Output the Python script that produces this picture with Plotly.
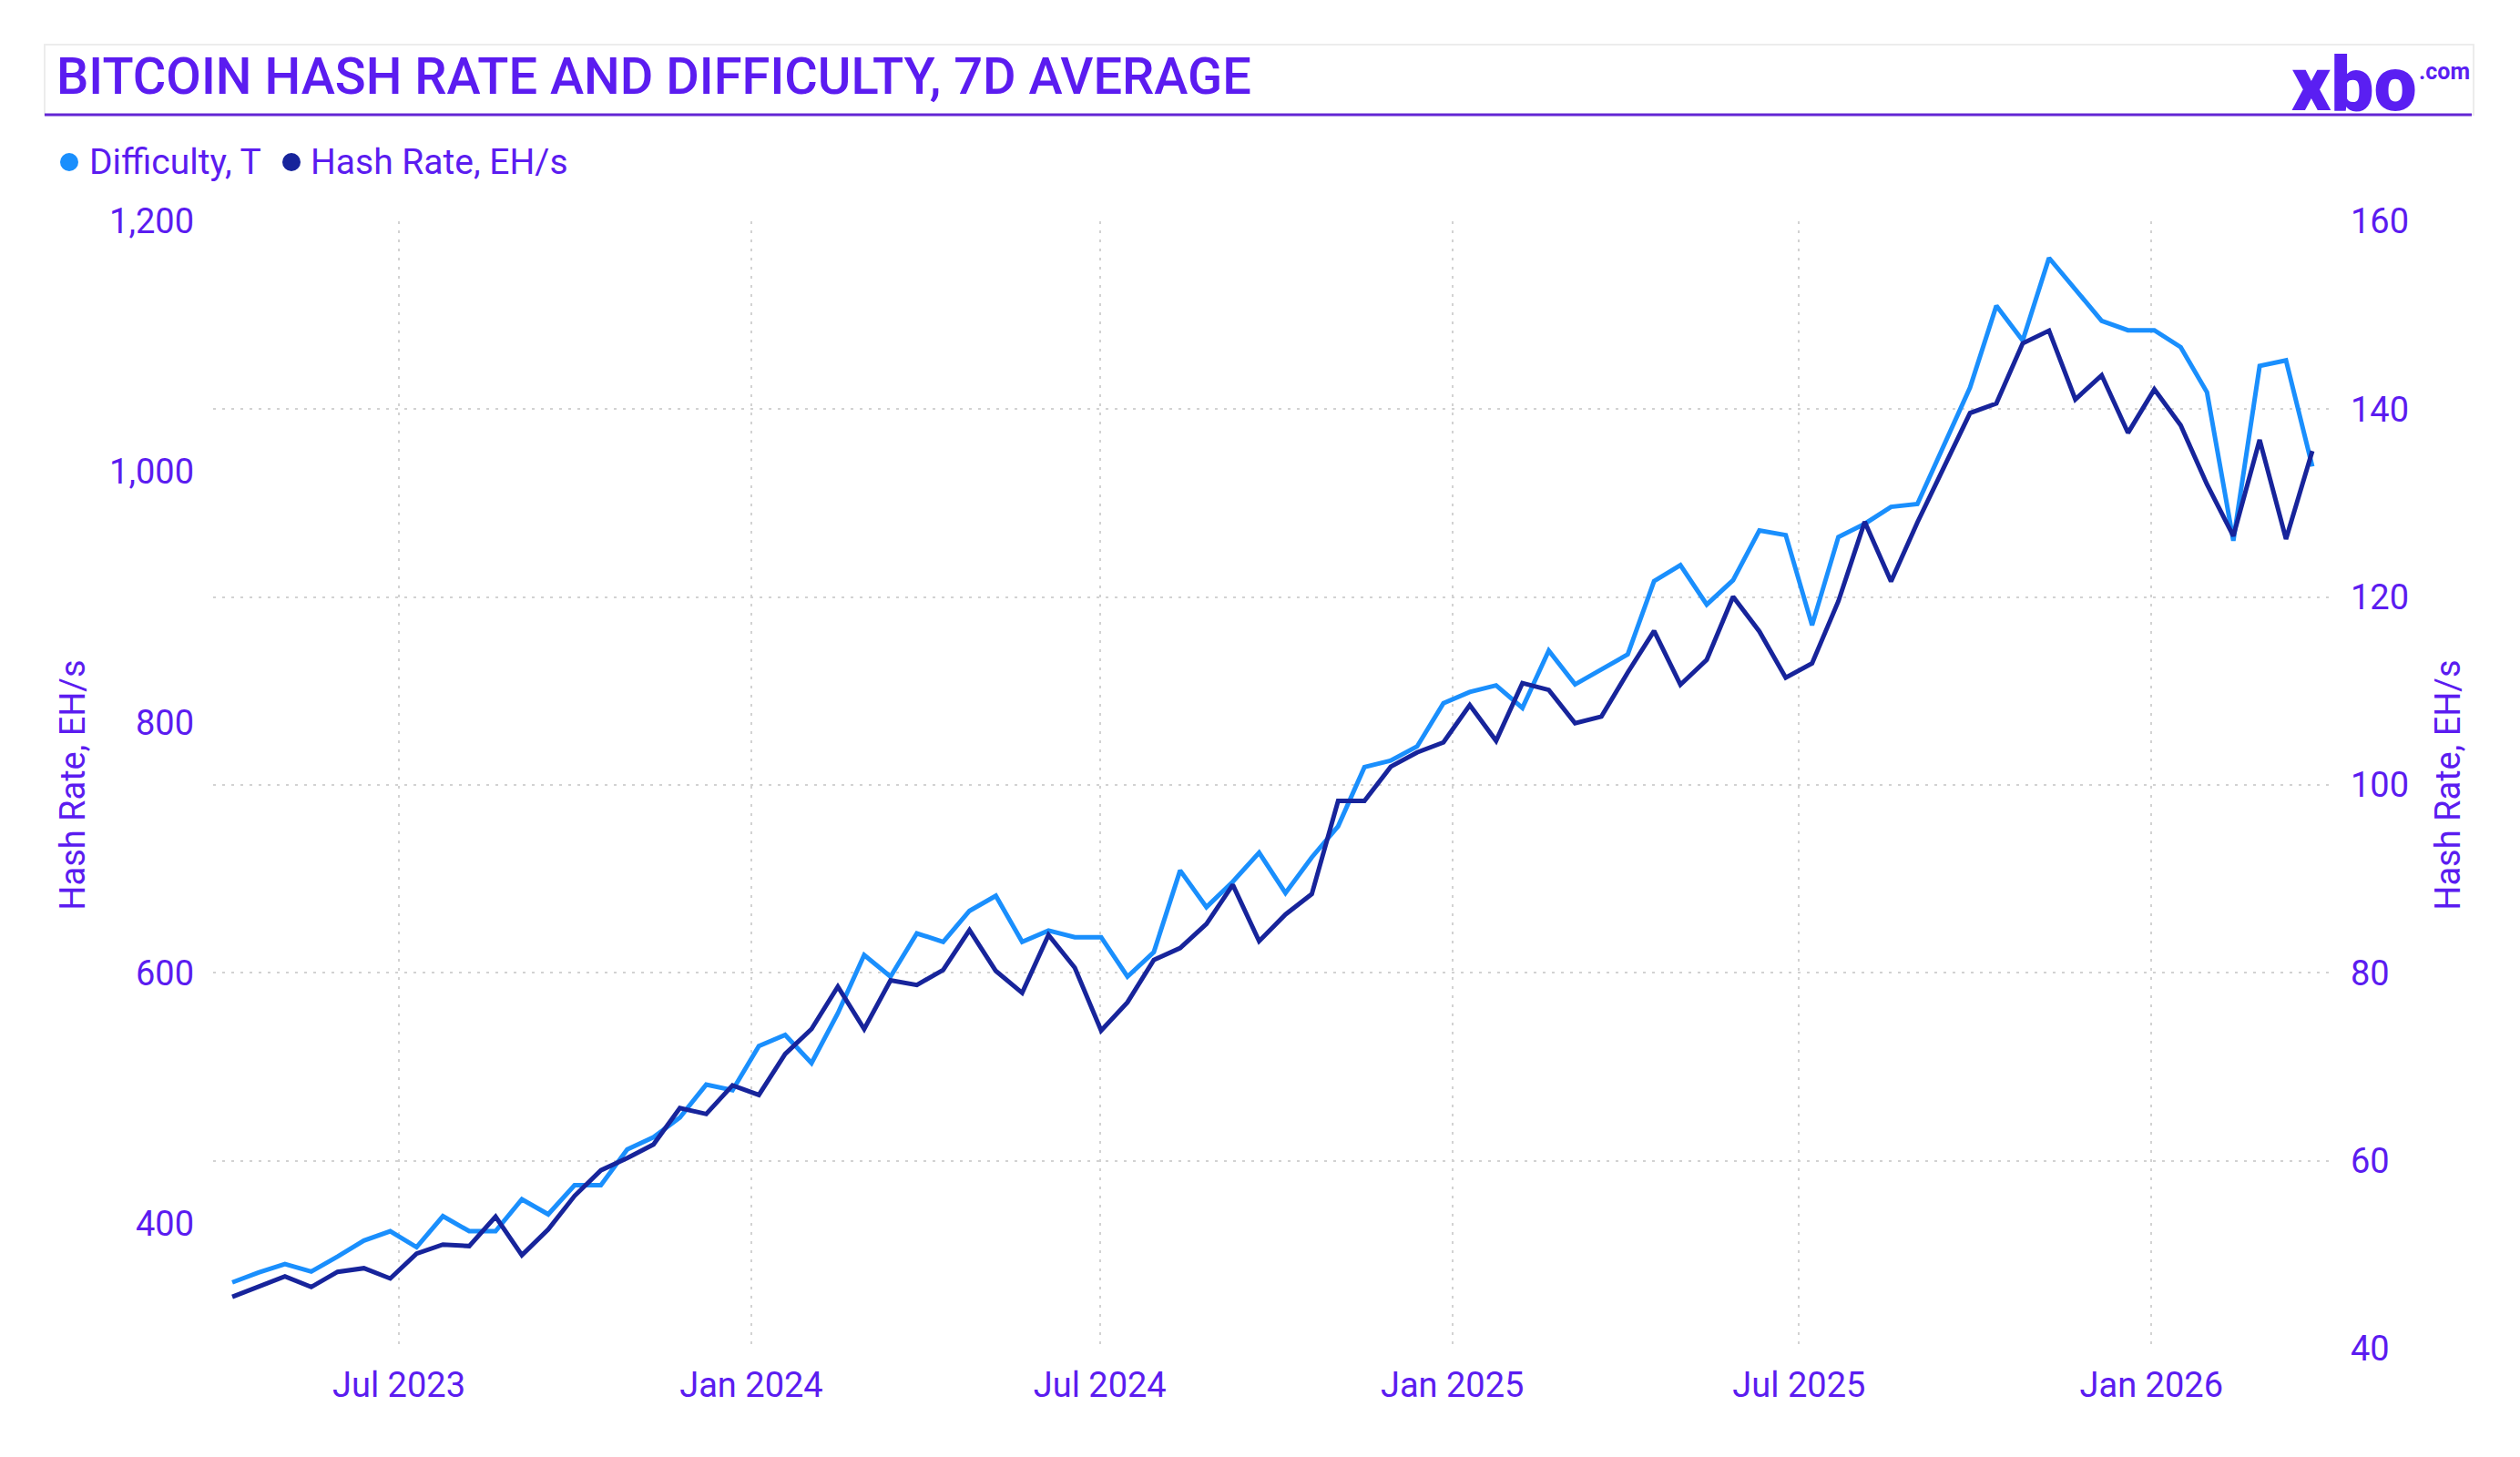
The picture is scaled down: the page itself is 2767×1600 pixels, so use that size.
import pandas as pd
import plotly.graph_objects as go

# ---------------- data ----------------
start_date = "2023-04-05"
end_date = "2026-03-26"
n_points = 80

difficulty_t = [
    47.05, 48.1, 49.0, 48.2, 49.8, 51.5, 52.5, 50.8, 54.1, 52.5,
    52.5, 55.9, 54.3, 57.4, 57.4, 61.2, 62.5, 64.6, 68.1, 67.5,
    72.2, 73.4, 70.4, 75.7, 81.9, 79.6, 84.2, 83.3, 86.6, 88.2,
    83.3, 84.5, 83.8, 83.8, 79.6, 82.2, 90.9, 87.0, 89.7, 92.8,
    88.5, 92.3, 95.6, 101.9, 102.6, 104.1, 108.7, 109.9, 110.6, 108.2,
    114.3, 110.7, 112.3, 113.9, 121.7, 123.4, 119.2, 121.8, 127.1, 126.6,
    117.0, 126.4, 127.8, 129.6, 129.9, 136.2, 142.3, 151.0, 147.3, 156.1,
    152.8, 149.4, 148.4, 148.4, 146.6, 141.8, 126.0, 144.6, 145.2, 133.9,
]

hash_rate_eh = [
    341.4, 349.2, 357.6, 349.2, 361.3, 364.2, 356.0, 375.8, 383.1, 381.9,
    405.4, 374.6, 395.2, 421.9, 442.4, 452.1, 463.0, 492.1, 487.3, 510.2,
    502.5, 535.2, 555.2, 589.0, 555.2, 594.0, 590.3, 602.3, 634.1, 601.5,
    584.0, 630.3, 604.1, 554.0, 576.5, 610.3, 619.8, 639.1, 670.3, 625.3,
    646.6, 662.9, 737.3, 737.3, 764.6, 776.0, 784.0, 813.8, 785.2, 831.3,
    825.9, 799.3, 804.6, 839.8, 872.9, 830.0, 850.0, 900.3, 872.5, 835.6,
    847.0, 896.7, 960.1, 912.5, 959.6, 1003.3, 1046.9, 1054.6, 1102.6, 1112.7,
    1057.8, 1077.1, 1031.1, 1065.8, 1037.1, 989.9, 948.8, 1025.5, 946.3, 1016.6,
]

dates = pd.date_range(start_date, end_date, periods=n_points)

left_tickvals = [400, 600, 800, 1000, 1200]
right_tickvals = [40, 60, 80, 100, 120, 140, 160]

title_text = "BITCOIN HASH RATE AND DIFFICULTY, 7D AVERAGE"
axis_title = "Hash Rate, EH/s"
series_names = ["Difficulty, T", "Hash Rate, EH/s"]

# ---------------- style ----------------
W, H = 2767, 1600
ML, MR, MT, MB = 234, 207, 243, 119
PW = W - ML - MR
PH = H - MT - MB

LIGHT = "#1a8ffd"
DARK = "#17249b"
PURPLE = "#5b1cf0"
LINE_PURPLE = "#6326d4"
GRID = "#d2d2d2"
FONT = "Roboto"


def px_x(x):
    return (x - ML) / PW


def px_y(y):
    return (H - MB - y) / PH


tick_font = dict(family=FONT, size=38, color=PURPLE)

fig = go.Figure()

fig.add_trace(go.Scatter(
    x=dates, y=difficulty_t, mode="lines", name=series_names[0],
    line=dict(color=LIGHT, width=5), yaxis="y", showlegend=False,
    hoverinfo="skip",
))
fig.add_trace(go.Scatter(
    x=dates, y=hash_rate_eh, mode="lines", name=series_names[1],
    line=dict(color=DARK, width=5), yaxis="y2", showlegend=False,
    hoverinfo="skip",
))

# manual legend: dots + labels (pixel positions)
legend_items = [
    (series_names[0], LIGHT, 76, 96),
    (series_names[1], DARK, 320, 339),
]
legend_y = 178
dot_r = 10

shapes = [
    dict(type="rect", xref="paper", yref="paper",
         x0=px_x(49), x1=px_x(2716), y0=px_y(126), y1=px_y(49),
         line=dict(color="#ececec", width=2), fillcolor="rgba(0,0,0,0)", layer="below"),
    dict(type="line", xref="paper", yref="paper",
         x0=px_x(49), x1=px_x(2714), y0=px_y(126), y1=px_y(126),
         line=dict(color=LINE_PURPLE, width=3)),
]
annotations = [
    dict(text=title_text, xref="paper", yref="paper", x=px_x(60), y=px_y(84),
         xanchor="left", yanchor="middle", showarrow=False,
         font=dict(family=FONT, size=56, color=PURPLE, weight=500)),
    dict(text="xbo", xref="paper", yref="paper", x=px_x(2656), y=px_y(92),
         xanchor="right", yanchor="middle", showarrow=False,
         font=dict(family=FONT, size=84, color="#5a1ff2", weight=900)),
    dict(text=".com", xref="paper", yref="paper", x=px_x(2654), y=px_y(78),
         xanchor="left", yanchor="middle", showarrow=False,
         font=dict(family=FONT, size=25, color="#5a1ff2", weight=700)),
]
for name, color, cx, tx in legend_items:
    shapes.append(dict(
        type="circle", xref="paper", yref="paper",
        x0=px_x(cx - dot_r), x1=px_x(cx + dot_r),
        y0=px_y(legend_y + dot_r), y1=px_y(legend_y - dot_r),
        fillcolor=color, line=dict(width=0),
    ))
    annotations.append(dict(
        text=name, xref="paper", yref="paper", x=px_x(tx), y=px_y(legend_y),
        xanchor="left", yanchor="middle", showarrow=False,
        font=dict(family=FONT, size=39, color=PURPLE),
    ))

fig.update_layout(
    width=W, height=H,
    margin=dict(l=ML, r=MR, t=MT, b=MB, autoexpand=False),
    paper_bgcolor="white", plot_bgcolor="white",
    font=dict(family=FONT, color=PURPLE),
    showlegend=False,
    xaxis=dict(
        type="date", range=["2023-03-26", "2026-04-05"],
        tick0="2023-01-01", dtick="M6", tickformat="%b %Y",
        showgrid=True, gridcolor=GRID, gridwidth=2, griddash="3px,7px",
        zeroline=False, showline=False, ticks="",
        tickfont=tick_font, ticklabelstandoff=14,
    ),
    yaxis=dict(
        side="right", range=[40, 160], tickvals=right_tickvals,
        showgrid=True, gridcolor=GRID, gridwidth=2, griddash="3px,7px",
        zeroline=False, showline=False, ticks="",
        tickfont=tick_font, ticklabelstandoff=20,
        title=dict(text=axis_title, font=dict(family=FONT, size=38, color=PURPLE), standoff=30),
    ),
    yaxis2=dict(
        overlaying="y", side="left", range=[300, 1200], tickvals=left_tickvals,
        tickformat=",", showgrid=False, zeroline=False, showline=False, ticks="",
        tickfont=tick_font, ticklabelstandoff=20,
        title=dict(text=axis_title, font=dict(family=FONT, size=38, color=PURPLE), standoff=14),
    ),
    shapes=shapes,
    annotations=annotations,
)

fig.write_html(
    "out.html",
    config={"displayModeBar": False},
    post_script="document.body.style.margin='0';document.body.style.overflow='hidden';",
)
